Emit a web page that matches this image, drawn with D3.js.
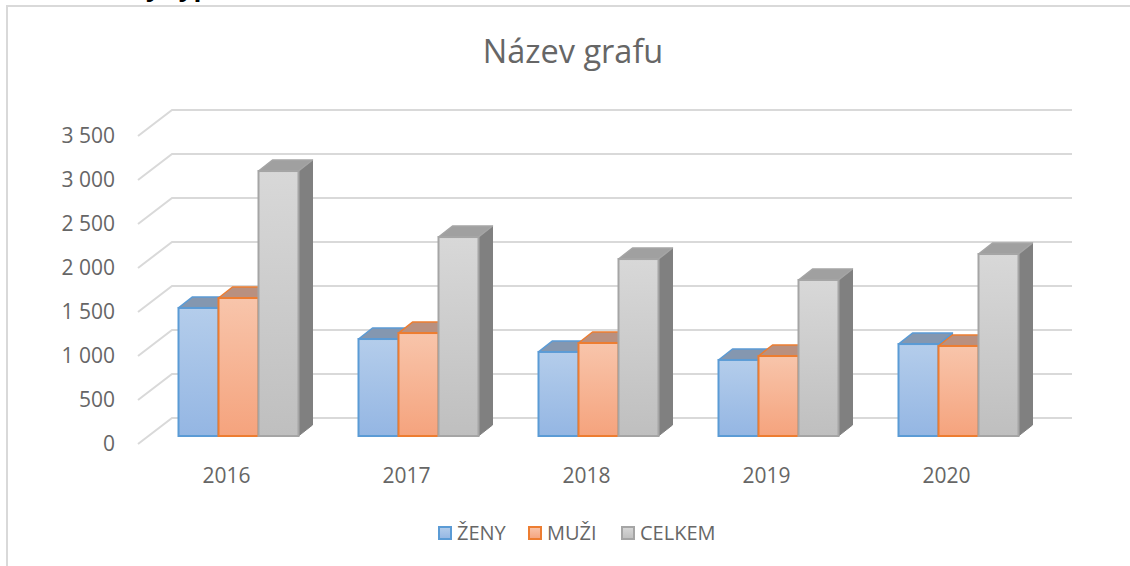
<!DOCTYPE html>
<html><head><meta charset="utf-8">
<script src="https://cdn.jsdelivr.net/npm/d3@7"></script>
<style>body{margin:0;background:#fff}svg{display:block}text{font-family:"Open Sans",sans-serif}</style>
</head><body><svg id="c" width="1130" height="566"></svg>
<script>
const categories = ["2016","2017","2018","2019","2020"];
const seriesNames = ["ŽENY","MUŽI","CELKEM"];
const zeny   = [1455, 1102, 955, 864, 1045];
const muzi   = [1568, 1170, 1057, 909, 1023];
const celkem = [3011, 2261, 2011, 1773, 2068];
const yTicks = [0,500,1000,1500,2000,2500,3000,3500];
const tickLabels = ["0","500","1 000","1 500","2 000","2 500","3 000","3 500"];
const series = [zeny, muzi, celkem];

const svg = d3.select("#c");
const textColor = "#666666";
const styles = [
  {stroke:"#5b9bd5", g1:"#b4cdeb", g2:"#94b6e3", top:"#8497b0", side:"#6d87a8"},
  {stroke:"#ed7d31", g1:"#f8c5ab", g2:"#f5a37d", top:"#b9907f", side:"#a8786a"},
  {stroke:"#a5a5a5", g1:"#d8d8d8", g2:"#bfbfbf", top:"#a0a0a0", side:"#808080"}
];
const defs = svg.append("defs");
styles.forEach((s,i)=>{
  const lg = defs.append("linearGradient").attr("id","g"+i).attr("x1",0).attr("y1",0).attr("x2",0).attr("y2",1);
  lg.append("stop").attr("offset","0%").attr("stop-color",s.g1);
  lg.append("stop").attr("offset","100%").attr("stop-color",s.g2);
});

// frame
svg.append("rect").attr("x",7).attr("y",6).attr("width",1200).attr("height",700)
  .attr("fill","none").attr("stroke","#d9d9d9").attr("stroke-width",2);

// cut-off heading text above chart (only descenders visible, as in the reference)
svg.append("text").attr("x",146).attr("y",-4).attr("font-size",26).attr("font-weight","bold")
  .attr("fill","#000").attr("font-family","Liberation Sans, sans-serif").text("y typů");

// title
svg.append("text").attr("x",573).attr("y",63).attr("text-anchor","middle")
  .attr("font-size",32.5).attr("fill",textColor).text("Název grafu");

// geometry
const plane0 = 148.5, planeW = 900;
const backDx = 23.5, backDy = -18, frontDx = -10.5, frontDy = 8;
const depthDx = 14, depthDy = -11;
const y = d3.scaleLinear().domain([0,3500]).range([436,128]);
const x = d3.scaleBand().domain(categories).range([plane0, plane0+planeW]).paddingInner(1/3).paddingOuter(1/6);
const xs = d3.scaleBand().domain(seriesNames).range([0, x.bandwidth()]);

// gridlines
const grid = svg.append("g").attr("stroke","#d9d9d9").attr("stroke-width",2).attr("fill","none");
yTicks.forEach(v=>{
  const yb = y(v)+backDy, yf = y(v)+frontDy;
  grid.append("path").attr("d",`M${plane0+frontDx},${yf}L${plane0+backDx},${yb}L${plane0+planeW+backDx},${yb}`);
});
// tick labels
svg.append("g").selectAll("text").data(yTicks).join("text")
  .attr("x",115).attr("y",d=>y(d)+frontDy).attr("dy","0.35em").attr("text-anchor","end")
  .attr("font-size",21).attr("fill",textColor).text((d,i)=>tickLabels[i]);

// x labels
svg.append("g").selectAll("text").data(categories).join("text")
  .attr("x",d=>x(d)+x.bandwidth()/2+frontDx-1.5).attr("y",476).attr("dy","0.35em").attr("text-anchor","middle")
  .attr("font-size",21).attr("fill",textColor).text(d=>d);

// bars
const bars = svg.append("g");
categories.forEach((c,ci)=>{
  seriesNames.forEach((s,si)=>{
    const v = series[si][ci];
    const x0 = x(c)+xs(s), w = xs.bandwidth();
    const yt = y(v), yb = y(0);
    const st = styles[si];
    const g = bars.append("g");
    g.append("path").attr("d",`M${x0+w},${yt}L${x0+w+depthDx},${yt+depthDy}L${x0+w+depthDx},${yb+depthDy}L${x0+w},${yb}Z`)
      .attr("fill",st.side).attr("stroke",st.side).attr("stroke-width",1);
    g.append("path").attr("d",`M${x0},${yt}L${x0+depthDx},${yt+depthDy}L${x0+w+depthDx},${yt+depthDy}L${x0+w},${yt}Z`)
      .attr("fill",st.top).attr("stroke",st.stroke).attr("stroke-width",1.5).attr("stroke-linejoin","round");
    g.append("rect").attr("x",x0).attr("y",yt).attr("width",w).attr("height",yb-yt)
      .attr("fill",`url(#g${si})`).attr("stroke",st.stroke).attr("stroke-width",2);
  });
});

// legend
const legX = [438, 528, 621];
const leg = svg.append("g");
seriesNames.forEach((s,i)=>{
  leg.append("rect").attr("x",legX[i]+1).attr("y",527).attr("width",12).attr("height",12)
    .attr("fill",`url(#g${i})`).attr("stroke",styles[i].stroke).attr("stroke-width",2);
  leg.append("text").attr("x",legX[i]+19).attr("y",540).attr("font-size",20).attr("fill",textColor).text(s);
});
</script></body></html>
